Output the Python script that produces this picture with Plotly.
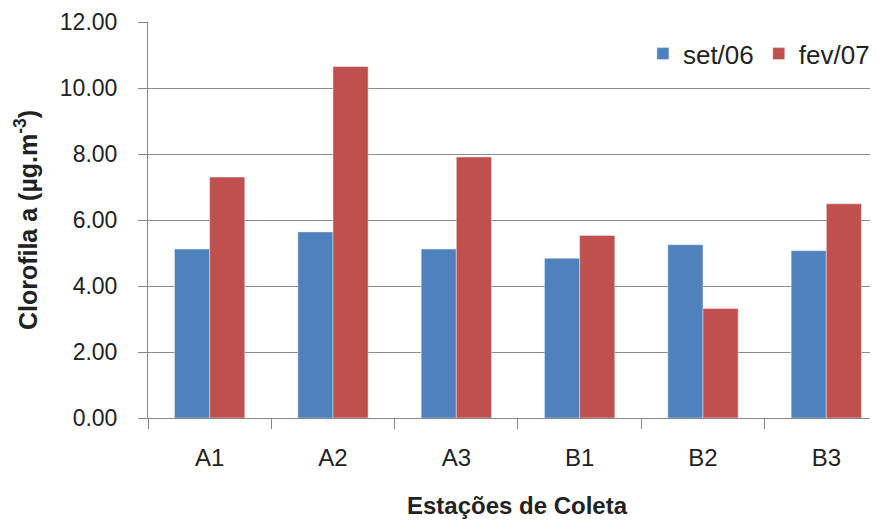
import plotly.graph_objects as go

# Estações de coleta e clorofila a (µg.m-3)
stations = ["A1", "A2", "A3", "B1", "B2", "B3"]
set06 = [5.12, 5.64, 5.12, 4.84, 5.25, 5.07]
fev07 = [7.30, 10.65, 7.91, 5.53, 3.32, 6.49]
y_ticks = [0, 2, 4, 6, 8, 10, 12]

FONT = "Liberation Sans, Arial, sans-serif"
AXIS_GREY = "#868686"

fig = go.Figure()
fig.add_trace(go.Bar(x=stations, y=set06, name="set/06", marker_color="#4F81BD"))
fig.add_trace(go.Bar(x=stations, y=fev07, name="fev/07", marker_color="#C0504D"))

# the page body adds an 8px offset, margins are compensated for it
fig.update_layout(
    width=878,
    height=521,
    margin=dict(l=140, r=0, t=14, b=111, autoexpand=False),
    paper_bgcolor="white",
    plot_bgcolor="white",
    barmode="group",
    bargap=0.43,
    bargroupgap=0,
    font=dict(family=FONT, size=23, color="#222222"),
    legend=dict(
        orientation="h",
        x=0.985,
        xanchor="right",
        y=0.92,
        yanchor="middle",
        font=dict(size=26),
        bgcolor="rgba(0,0,0,0)",
        itemwidth=30,
    ),
)

fig.update_xaxes(
    range=[-0.5, 5.484],
    automargin=False,
    showline=True,
    linecolor=AXIS_GREY,
    linewidth=1,
    ticks="outside",
    tickson="boundaries",
    ticklen=10,
    tickcolor=AXIS_GREY,
    tickfont=dict(size=24),
    ticklabelstandoff=18,
    showgrid=False,
    title=dict(
        text="<b>Estações de Coleta</b>",
        font=dict(size=24),
        standoff=27,
    ),
)

fig.update_yaxes(
    range=[0, 12],
    automargin=False,
    tickvals=y_ticks,
    ticktext=[f"{v:.2f}" for v in y_ticks],
    showline=True,
    linecolor=AXIS_GREY,
    linewidth=1,
    ticks="outside",
    ticklen=9,
    tickcolor=AXIS_GREY,
    ticklabelstandoff=16,
    showgrid=True,
    gridcolor="#8c8c8c",
    gridwidth=1,
    zeroline=False,
    title=dict(
        text="<b>Clorofila a (µg.m<sup>-3</sup>)</b>",
        font=dict(size=25),
        standoff=15,
    ),
)

fig.write_html("out.html")
